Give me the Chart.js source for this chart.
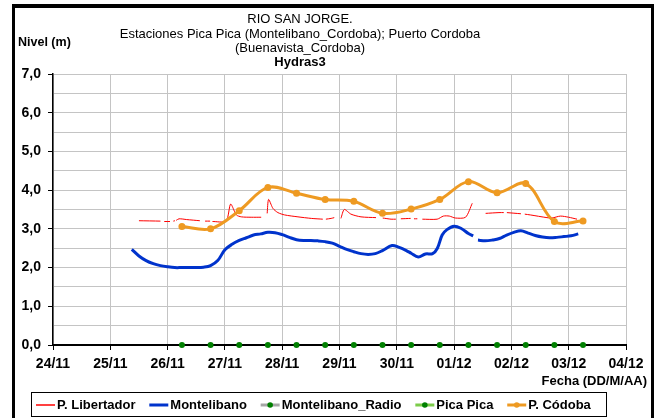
<!DOCTYPE html>
<html>
<head>
<meta charset="utf-8">
<script src="https://cdn.jsdelivr.net/npm/chart.js@4/dist/chart.umd.min.js"></script>
<style>
  html, body { margin: 0; padding: 0; background: #ffffff; }
  #wrap { width: 659px; height: 418px; position: relative; }
</style>
</head>
<body>
<div id="wrap"><canvas id="c" width="659" height="418"></canvas></div>
<script>
// Day ticks on the horizontal axis (every 24 h from 24/11 00:00)
const dayLabels = ['24/11', '25/11', '26/11', '27/11', '28/11', '29/11', '30/11', '01/12', '02/12', '03/12', '04/12'];

// Level tick labels (m)
const levelLabels = ['0,0', '1,0', '2,0', '3,0', '4,0', '5,0', '6,0', '7,0'];

// P. Libertador: hours since 24/11 00:00 and level (m); null = missing reading
const libertadorHours = [36, 45, 45.8, 46.6, 49, 49.7, 50.4, 51.1, 51.3, 51.6, 52.8, 56, 61.5, 62.5, 63.7, 65.8, 66.3, 66.8,
  72.5, 74.4, 76.8, 78.9, 83, 87.2, 88.5, 89.7, 90.3, 92.1, 94.2, 97, 102.6, 108.2, 113, 113.6, 114.3, 116.5, 117.8, 119.2,
  120.6, 122, 124.8, 129, 135.3, 136.7, 138.1, 141.6, 143.6, 144.6, 145.7, 149.8, 150.5, 151.2, 152.6, 153.6, 154.7, 160.9,
  163.5, 166, 168.5, 172.8, 175.6, 178, 181.2, 186.8, 188.8, 189.4, 190.1, 196, 196.8, 197.6, 199.9, 206.9, 209, 212.5, 216, 219.5];
const libertadorLevel = [3.21, 3.20, null, 3.19, 3.19, null, 3.20, 3.21, null, 3.22, 3.26, 3.24, 3.21, null, 3.20, 3.20, null, 3.19,
  3.20, 3.64, 3.36, 3.31, 3.30, 3.30, null, 3.40, 3.76, 3.53, 3.42, 3.36, 3.31, 3.27, 3.25, null, 3.25, 3.27, 3.29, null,
  3.27, 3.50, 3.38, 3.31, 3.29, null, 3.28, 3.25, 3.25, null, 3.26, 3.27, null, 3.26, 3.26, null, 3.25, 3.25,
  3.33, 3.33, 3.28, 3.30, 3.66, null, 3.40, 3.42, 3.42, null, 3.42, 3.39, null, 3.38, 3.36, 3.29, 3.28, 3.33, 3.30, 3.25];

// Montelibano: hours since 24/11 00:00 and level (m)
const montelibanoHours = [33, 36, 39, 42, 45, 48, 51, 54, 57, 60, 63, 66, 69, 72, 75, 78, 81, 84, 87, 90, 93, 96, 99, 102,
  105, 108, 111, 114, 117, 120, 123, 126, 129, 132, 135, 138, 142, 145, 148, 150, 153, 156, 159, 161, 163, 165, 168, 171,
  174, 176, 177, 178, 181, 184, 187, 190, 193, 196, 199, 202, 205, 208, 211, 214, 217, 220];
const montelibanoLevel = [2.47, 2.30, 2.18, 2.10, 2.05, 2.02, 2.00, 2.00, 2.00, 2.00, 2.01, 2.05, 2.18, 2.46, 2.60, 2.70,
  2.77, 2.84, 2.87, 2.91, 2.90, 2.85, 2.78, 2.72, 2.70, 2.70, 2.69, 2.67, 2.63, 2.55, 2.47, 2.41, 2.36, 2.34, 2.36, 2.44,
  2.57, 2.52, 2.44, 2.37, 2.27, 2.35, 2.36, 2.50, 2.84, 2.98, 3.07, 3.01, 2.88, 2.82, null, 2.71, 2.69, 2.71, 2.75, 2.84,
  2.91, 2.95, 2.89, 2.83, 2.79, 2.77, 2.78, 2.80, 2.82, 2.87];

// Montelibano_Radio: no readings in this period
const radioHours = [];
const radioLevel = [];

// Pica Pica and P. Córdoba: twice-daily readings (06:00 and 18:00)
const dailyHours = [54, 66, 78, 90, 102, 114, 126, 138, 150, 162, 174, 186, 198, 210, 222];
const picaPicaLevel = [0, 0, 0, 0, 0, 0, 0, 0, 0, 0, 0, 0, 0, 0, 0];
const cordobaLevel = [3.06, 3.00, 3.47, 4.07, 3.92, 3.76, 3.71, 3.40, 3.51, 3.76, 4.22, 3.93, 4.17, 3.19, 3.20];

const pairs = (xs, ys) => xs.map((x, i) => ({ x: x, y: ys[i] }));

const FONT = "'Liberation Sans', Arial, sans-serif";

// Titles, axis captions, boxed legend and outer frame
const decorations = {
  id: 'decorations',
  beforeDraw(chart) {
    const ctx = chart.ctx;
    ctx.save();
    ctx.fillStyle = '#ffffff';
    ctx.fillRect(0, 0, chart.width, chart.height);
    ctx.restore();
  },
  afterDraw(chart) {
    const ctx = chart.ctx;
    ctx.save();
    ctx.fillStyle = '#000000';
    ctx.textBaseline = 'middle';

    // title block
    ctx.textAlign = 'center';
    ctx.font = '13px ' + FONT;
    ctx.fillText('RIO SAN JORGE.', 300, 19);
    ctx.fillText('Estaciones Pica Pica (Montelibano_Cordoba); Puerto Cordoba', 300, 34);
    ctx.fillText('(Buenavista_Cordoba)', 300, 48);
    ctx.font = 'bold 13px ' + FONT;
    ctx.fillText('Hydras3', 300, 62);

    // axis captions
    ctx.textAlign = 'left';
    ctx.font = 'bold 12.5px ' + FONT;
    ctx.fillText('Nivel (m)', 18, 43);
    ctx.textAlign = 'right';
    ctx.font = 'bold 13px ' + FONT;
    ctx.fillText('Fecha (DD/M/AA)', 647, 381);

    // legend
    const ly = 405;
    ctx.strokeStyle = '#000000';
    ctx.lineWidth = 1;
    ctx.strokeRect(31.5, 392.5, 575, 24);
    ctx.font = 'bold 13px ' + FONT;
    ctx.textAlign = 'left';
    let x = 36;
    chart.data.datasets.forEach((ds) => {
      ctx.strokeStyle = ds.legendLine || ds.borderColor;
      ctx.lineWidth = ds.legendWidth || 2;
      ctx.beginPath();
      ctx.moveTo(x, ly);
      ctx.lineTo(x + 19, ly);
      ctx.stroke();
      if (ds.legendDot) {
        ctx.fillStyle = ds.legendDot;
        ctx.beginPath();
        ctx.arc(x + 9.5, ly, 2.8, 0, Math.PI * 2);
        ctx.fill();
      }
      ctx.fillStyle = '#000000';
      ctx.fillText(ds.label, x + 21, ly + 0.5);
      x += 21 + ctx.measureText(ds.label).width + 13.8;
    });

    // outer frame
    ctx.fillStyle = '#000000';
    ctx.fillRect(12, 4, 642, 4);
    ctx.fillRect(12, 4, 3, 414);
    ctx.fillRect(651, 4, 3, 414);
    ctx.restore();
  }
};

new Chart(document.getElementById('c'), {
  type: 'line',
  data: {
    datasets: [
      {
        label: 'P. Libertador',
        data: pairs(libertadorHours, libertadorLevel),
        borderColor: '#ff0000',
        borderWidth: 1,
        pointRadius: 0,
        tension: 0.25,
        legendWidth: 1.5,
        order: 3
      },
      {
        label: 'Montelibano',
        data: pairs(montelibanoHours, montelibanoLevel),
        borderColor: '#0033cc',
        borderWidth: 3,
        pointRadius: 0,
        tension: 0.35,
        legendWidth: 3,
        order: 4
      },
      {
        label: 'Montelibano_Radio',
        data: pairs(radioHours, radioLevel),
        borderColor: '#a6a6a6',
        borderWidth: 2,
        pointRadius: 3,
        pointBackgroundColor: '#008000',
        pointBorderColor: '#008000',
        legendLine: '#a6a6a6',
        legendDot: '#008000',
        legendWidth: 3,
        order: 5
      },
      {
        label: 'Pica Pica',
        data: pairs(dailyHours, picaPicaLevel),
        borderColor: '#7ccc4a',
        showLine: false,
        pointRadius: 3,
        pointBackgroundColor: '#008000',
        pointBorderColor: '#008000',
        pointBorderWidth: 0,
        clip: false,
        legendLine: '#7ccc4a',
        legendDot: '#008000',
        legendWidth: 3,
        order: 0
      },
      {
        label: 'P. Códoba',
        data: pairs(dailyHours, cordobaLevel),
        borderColor: '#ee9a22',
        borderWidth: 3,
        pointRadius: 3.5,
        pointBackgroundColor: '#ee9a22',
        pointBorderColor: '#ee9a22',
        pointBorderWidth: 0,
        tension: 0.35,
        legendDot: '#ee9a22',
        legendWidth: 3,
        order: 1
      }
    ]
  },
  options: {
    responsive: false,
    animation: false,
    devicePixelRatio: 1,
    layout: { padding: { left: 0, top: 74, right: 33, bottom: 0 } },
    plugins: {
      legend: { display: false },
      title: { display: false },
      tooltip: { enabled: false }
    },
    scales: {
      x: {
        type: 'linear',
        min: 0,
        max: 240,
        afterFit: (s) => { s.height = 73; },
        grid: {
          color: '#c4c4c4',
          lineWidth: 1,
          tickLength: 5,
          tickColor: '#000000'
        },
        border: { color: '#000000', width: 2 },
        ticks: {
          stepSize: 24,
          autoSkip: false,
          maxRotation: 0,
          padding: 6,
          color: '#000000',
          font: { family: FONT, size: 14, weight: 'bold' },
          callback: (v) => dayLabels[Math.round(v / 24)]
        }
      },
      y: {
        min: 0,
        max: 7,
        afterFit: (s) => { s.width = 53; },
        grid: {
          color: '#c4c4c4',
          lineWidth: 1,
          tickLength: 5,
          tickColor: (c) => (c.tick && Number.isInteger(c.tick.value) ? '#000000' : 'rgba(0,0,0,0)')
        },
        border: { color: '#000000', width: 1.5 },
        ticks: {
          stepSize: 0.5,
          autoSkip: false,
          padding: 7,
          color: '#000000',
          font: { family: FONT, size: 14, weight: 'bold' },
          callback: (v) => (Number.isInteger(v) ? levelLabels[v] : '')
        }
      }
    }
  },
  plugins: [decorations]
});
</script>
</body>
</html>
